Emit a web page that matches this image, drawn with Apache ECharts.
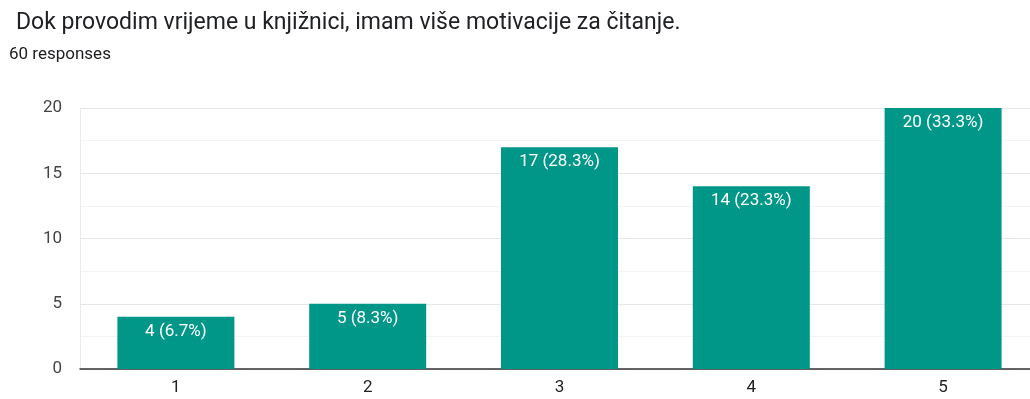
<!DOCTYPE html>
<html>
<head>
<meta charset="utf-8">
<script src="https://cdn.jsdelivr.net/npm/echarts@6/dist/echarts.min.js"></script>
<style>
  html, body { margin: 0; padding: 0; background: #fff; overflow: hidden; }
  #chart { width: 1030px; height: 399px; }
</style>
</head>
<body>
<div id="chart"></div>
<script>
// Survey question: answers on a 1–5 scale
const titleText = 'Dok provodim vrijeme u knjižnici, imam više motivacije za čitanje.';
const subtitleText = '60 responses';
const categories = ['1', '2', '3', '4', '5'];
const counts = [4, 5, 17, 14, 20];
const totalResponses = 60;

const chart = echarts.init(document.getElementById('chart'), null, { renderer: 'canvas' });

chart.setOption({
  animation: false,
  textStyle: { fontFamily: 'Roboto, Arial, sans-serif' },
  title: [
    {
      text: titleText,
      left: 11, top: 7,
      textStyle: { fontSize: 23, fontWeight: 'normal', color: '#202124', fontFamily: 'Roboto' }
    },
    {
      text: subtitleText,
      left: 4, top: 41,
      textStyle: { fontSize: 17, fontWeight: 'normal', color: '#202124', fontFamily: 'Roboto' }
    }
  ],
  // plot area runs slightly past the right edge of the page
  grid: { left: 80, width: 959, top: 108, bottom: 30, containLabel: false, outerBoundsMode: 'none' },
  xAxis: {
    type: 'category',
    data: categories,
    axisLine: { show: true, lineStyle: { color: '#333', width: 1.5 } },
    axisTick: { show: false },
    axisLabel: { color: '#222', fontSize: 17, margin: 10, fontFamily: 'Roboto' }
  },
  yAxis: {
    type: 'value',
    min: 0, max: 20, interval: 5,
    axisLine: { show: true, lineStyle: { color: '#ebebeb', width: 1 } },
    axisTick: { show: false },
    axisLabel: { color: '#444', fontSize: 17, margin: 18, fontFamily: 'Roboto' },
    splitLine: { lineStyle: { color: '#e6e6e6', width: 1 } },
    minorTick: { show: false, splitNumber: 2 },
    minorSplitLine: { show: true, lineStyle: { color: '#f3f3f3', width: 1 } }
  },
  series: [{
    type: 'bar',
    data: counts,
    barWidth: '61%',
    itemStyle: { color: '#009688' },
    label: {
      show: true,
      position: 'insideTop',
      distance: 6,
      color: '#fff',
      fontSize: 17,
      fontFamily: 'Roboto',
      formatter: p => p.value + ' (' + (p.value / totalResponses * 100).toFixed(1) + '%)'
    }
  }]
});
</script>
</body>
</html>
